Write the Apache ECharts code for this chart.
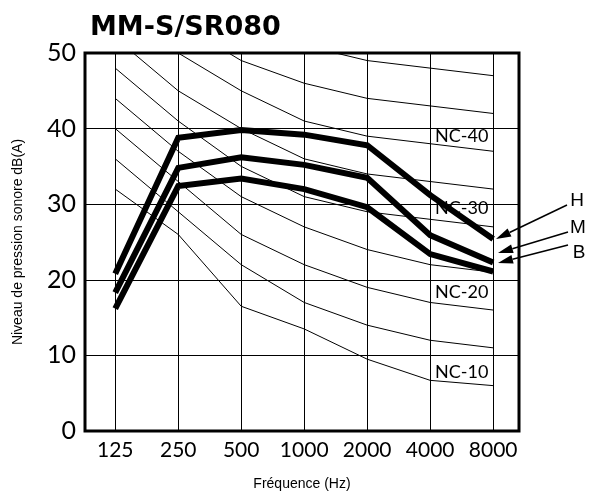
<!DOCTYPE html>
<html>
<head>
<meta charset="utf-8">
<script src="https://cdn.jsdelivr.net/npm/echarts@6/dist/echarts.min.js"></script>
<style>
html, body { margin: 0; padding: 0; background: #fff; }
#main { width: 593px; height: 500px; }
</style>
</head>
<body>
<div id="main"></div>
<script>
// bandes d'octave (Hz)
var frequencies = ['125', '250', '500', '1000', '2000', '4000', '8000']
var yTicks = [0, 10, 20, 30, 40, 50]

// niveaux de l'appareil, vitesses H / M / B
var levelH = [20.8, 38.8, 39.8, 39.2, 37.8, 31.2, 25.4]
var levelM = [18.3, 34.8, 36.2, 35.2, 33.5, 25.9, 22.3]
var levelB = [16.2, 32.4, 33.4, 32.0, 29.6, 23.4, 21.1]

// courbes NC
var nc10 = [32, 26, 16.5, 13.5, 9.5, 6.7, 6]
var nc15 = [36, 29, 22, 17, 14, 12, 11]
var nc20 = [40, 33, 26, 22, 19, 17, 16]
var nc25 = [44, 37, 31, 27, 24, 22, 21]
var nc30 = [48, 41, 35, 31, 29, 28, 27]
var nc35 = [52, 45, 40, 36, 34, 33, 32]
var nc40 = [56, 50, 45, 41, 39, 38, 37]
var nc45 = [60, 54, 49, 46, 44, 43, 42]
var nc50 = [64, 58, 54, 51, 49, 48, 47]

var main = document.getElementById('main')
var myChart = echarts.init(main, null, { renderer: 'canvas' })

function pts (arr) {
  return arr.map(function (v, i) { return [i, v] })
}

function ncLabel (text, y) {
  return {
    data: [{ coord: [5.5, y] }],
    symbol: 'rect',
    symbolSize: 1,
    itemStyle: { color: 'rgba(0,0,0,0)' },
    silent: true,
    label: {
      show: true,
      position: 'inside',
      formatter: text,
      color: '#000',
      fontFamily: 'Lato',
      fontSize: 18
    }
  }
}

var ncSets = [
  { name: 'NC-10', data: nc10, label: ncLabel('NC-10', 7.8) },
  { name: 'NC-15', data: nc15 },
  { name: 'NC-20', data: nc20, label: ncLabel('NC-20', 18.3) },
  { name: 'NC-25', data: nc25 },
  { name: 'NC-30', data: nc30, label: ncLabel('NC-30', 29.5) },
  { name: 'NC-35', data: nc35 },
  { name: 'NC-40', data: nc40, label: ncLabel('NC-40', 39) },
  { name: 'NC-45', data: nc45 },
  { name: 'NC-50', data: nc50 }
]

var series = ncSets.map(function (s, k) {
  var o = {
    name: s.name,
    type: 'line',
    data: pts(s.data),
    symbol: 'none',
    silent: true,
    clip: true,
    lineStyle: { color: '#000', width: 1 },
    z: 3
  }
  if (s.label) o.markPoint = s.label
  if (k === 0) {
    // lignes verticales de la grille
    o.markLine = {
      silent: true,
      symbol: ['none', 'none'],
      label: { show: false },
      lineStyle: { color: '#000', width: 1, type: 'solid' },
      data: frequencies.map(function (f, i) { return { xAxis: i } })
    }
  }
  return o
})

;[['H', levelH], ['M', levelM], ['B', levelB]].forEach(function (s) {
  series.push({
    name: s[0],
    type: 'line',
    data: pts(s[1]),
    symbol: 'none',
    silent: true,
    lineStyle: { color: '#000', width: 6, join: 'miter' },
    z: 5
  })
})

myChart.setOption({
  animation: false,
  title: {
    text: 'MM-S/SR080',
    left: 85,
    top: 9,
    textStyle: { fontFamily: 'DejaVu Sans', fontWeight: 'bold', fontSize: 27, color: '#000' }
  },
  grid: {
    left: 85,
    right: 74,
    top: 53,
    bottom: 69,
    show: true,
    borderColor: '#000',
    borderWidth: 3,
    backgroundColor: '#fff'
  },
  xAxis: {
    type: 'value',
    min: -0.48,
    max: 6.41,
    name: 'Fréquence (Hz)',
    nameLocation: 'middle',
    nameGap: 46,
    nameTextStyle: { fontFamily: 'Liberation Sans', fontSize: 14, color: '#000' },
    axisLine: { show: false },
    axisTick: { show: false, customValues: [0, 1, 2, 3, 4, 5, 6] },
    splitLine: { show: false },
    axisLabel: {
      customValues: [0, 1, 2, 3, 4, 5, 6],
      formatter: function (v) { return frequencies[Math.round(v)] },
      fontFamily: 'Lato',
      fontSize: 21,
      color: '#000',
      margin: 9
    }
  },
  yAxis: {
    type: 'value',
    min: yTicks[0],
    max: yTicks[yTicks.length - 1],
    interval: 10,
    name: 'Niveau de pression sonore dB(A)',
    nameLocation: 'middle',
    nameGap: 60,
    nameTextStyle: { fontFamily: 'Liberation Sans', fontSize: 14, color: '#000' },
    axisLine: { show: false },
    axisTick: { show: false },
    splitLine: { show: true, lineStyle: { color: '#000', width: 1 } },
    axisLabel: { fontFamily: 'Lato', fontSize: 25, color: '#000', margin: 9 }
  },
  series: series
})

// flèches H / M / B
function arrow (label, tx, ty, x1, y1, x2, y2) {
  var dx = x2 - x1, dy = y2 - y1
  var len = Math.sqrt(dx * dx + dy * dy)
  var ux = dx / len, uy = dy / len
  var hl = 15, hw = 4.5
  var bx = x2 - ux * hl, by = y2 - uy * hl
  return [
    {
      type: 'line',
      shape: { x1: x1, y1: y1, x2: bx, y2: by },
      style: { stroke: '#000', lineWidth: 1.5 },
      z: 10
    },
    {
      type: 'polygon',
      shape: { points: [[x2, y2], [bx - uy * hw, by + ux * hw], [bx + uy * hw, by - ux * hw]] },
      style: { fill: '#000' },
      z: 10
    },
    {
      type: 'text',
      x: tx,
      y: ty,
      style: {
        text: label,
        fontFamily: 'Liberation Sans',
        fontSize: 19,
        fill: '#000',
        align: 'center',
        verticalAlign: 'middle'
      },
      z: 10
    }
  ]
}

myChart.setOption({
  graphic: [].concat(
    arrow('H', 577, 201, 567, 205, 496, 239),
    arrow('M', 578, 228, 568, 232, 498, 253),
    arrow('B', 579, 253, 568, 245, 498, 263)
  )
})
</script>
</body>
</html>
